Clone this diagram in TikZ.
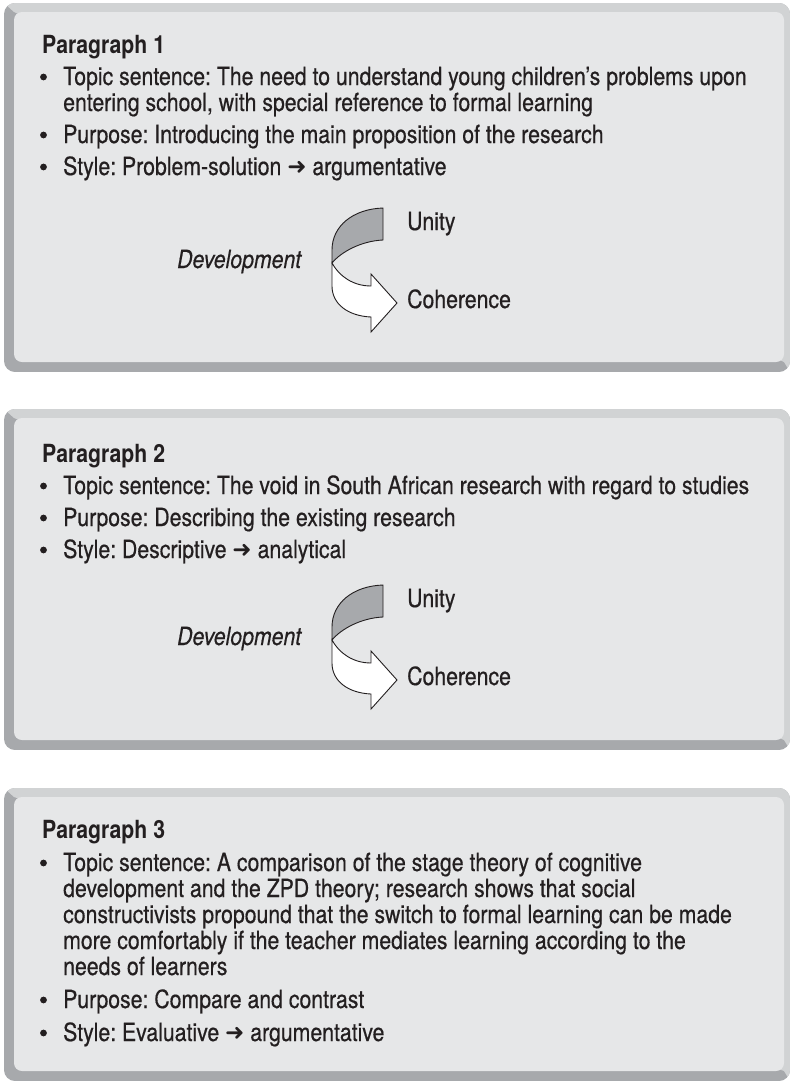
\documentclass[tikz,border=0pt]{standalone}
\usepackage{fontspec}
\setmainfont{TeX Gyre Heros}[FakeStretch=0.85,
  UprightFeatures={FakeBold=0.5}, ItalicFeatures={FakeBold=0.5}]
\newfontfamily\symfont{DejaVu Sans}
\frenchspacing

\definecolor{panelfill}{HTML}{E6E7E8}
\definecolor{lightband}{HTML}{D1D3D4}
\definecolor{darkband}{HTML}{A7A9AC}
\definecolor{ribbongray}{HTML}{A7A9AC}
\definecolor{ink}{HTML}{231F20}

% bevelled panel: #1 = outer top, #2 = outer bottom
\newcommand\drawpanel[2]{%
  \begin{scope}
    \clip[rounded corners=11] (4,#1) rectangle (790,#2);
    \fill[darkband] (4,#1) rectangle (790,#2);
    \fill[lightband] (4,#1) -- (14,#1+9) -- (784,#2-10) -- (790,#2) -- (790,#1) -- cycle;
  \end{scope}
  \fill[panelfill, rounded corners=8] (14,#1+9) rectangle (784,#2-10);
}
\newcommand\rarr{{\symfont\fontsize{23}{23}\selectfont\raisebox{0.3pt}{➜}}}

\tikzset{
  txt/.style={anchor=base west, inner sep=0pt, text=ink, font=\fontsize{25}{30}\selectfont},
  headtxt/.style={txt, font=\fontsize{25}{30}\selectfont\bfseries},
  devtxt/.style={txt, font=\fontsize{25}{30}\selectfont\itshape},
  dot/.style={fill=ink},
  ribbon/.pic={
    \filldraw[fill=ribbongray, draw=ink, line width=0.9pt]
      (0,0) .. controls (-30,1) and (-51,18) .. (-51,42) -- (-51,55)
      .. controls (-42,44) and (-22,33) .. (0,32) -- cycle;
    \filldraw[fill=white, draw=ink, line width=0.9pt]
      (-51,55) .. controls (-44,68) and (-30,78) .. (-12,78) -- (-12,66)
      -- (14,95) -- (-12,124) -- (-12,109)
      .. controls (-35,108) and (-51,96) .. (-51,78) -- cycle;
  }
}

\begin{document}
\begin{tikzpicture}[x=1pt, y=-1pt]
\useasboundingbox (0,0) rectangle (793,1082);

% panels
\drawpanel{3}{372}
\drawpanel{409}{750}
\drawpanel{788}{1081}

% ---- Paragraph 1
\node[headtxt] (p1head) at (42,53) {Paragraph 1};
\fill[dot] (43.5,77) circle (3.4);
\node[txt] (p1topa) at (63,85) {Topic sentence: The need to understand young children’s problems upon};
\node[txt] (p1topb) at (63,111) {entering school, with special reference to formal learning};
\fill[dot] (43.5,135) circle (3.4);
\node[txt] (p1purp) at (63,143) {Purpose: Introducing the main proposition of the research};
\fill[dot] (43.5,167) circle (3.4);
\node[txt] (p1style) at (63,175) {Style: Problem-solution \rarr{} argumentative};
\pic at (383,208) {ribbon};
\node[devtxt] (p1dev) at (177,268) {Development};
\node[txt] (p1unity) at (407,230) {Unity};
\node[txt] (p1coh) at (407,308) {Coherence};

% ---- Paragraph 2
\node[headtxt] (p2head) at (42,462) {Paragraph 2};
\fill[dot] (43.5,486) circle (3.4);
\node[txt] (p2top) at (63,494) {Topic sentence: The void in South African research with regard to studies};
\fill[dot] (43.5,518) circle (3.4);
\node[txt] (p2purp) at (63,526) {Purpose: Describing the existing research};
\fill[dot] (43.5,550) circle (3.4);
\node[txt] (p2style) at (63,558) {Style: Descriptive \rarr{} analytical};
\pic at (383,585) {ribbon};
\node[devtxt] (p2dev) at (177,645) {Development};
\node[txt] (p2unity) at (407,607) {Unity};
\node[txt] (p2coh) at (407,685) {Coherence};

% ---- Paragraph 3
\node[headtxt] (p3head) at (42,838) {Paragraph 3};
\fill[dot] (43.5,863) circle (3.4);
\node[txt] (p3topa) at (63,871) {Topic sentence: A comparison of the stage theory of cognitive};
\node[txt] (p3topb) at (63,897) {development and the ZPD theory; research shows that social};
\node[txt] (p3topc) at (63,923) {constructivists propound that the switch to formal learning can be made};
\node[txt] (p3topd) at (63,949) {more comfortably if the teacher mediates learning according to the};
\node[txt] (p3tope) at (63,975) {needs of learners};
\fill[dot] (43.5,1000) circle (3.4);
\node[txt] (p3purp) at (63,1008) {Purpose: Compare and contrast};
\fill[dot] (43.5,1033) circle (3.4);
\node[txt] (p3style) at (63,1041) {Style: Evaluative \rarr{} argumentative};
\end{tikzpicture}
\end{document}
